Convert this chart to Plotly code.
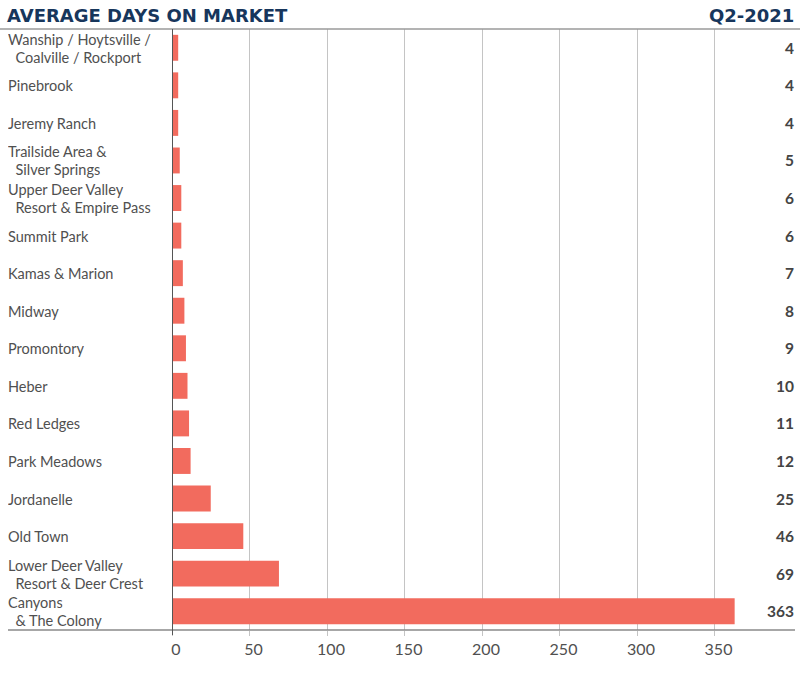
import plotly.graph_objects as go

categories = [
    "Wanship / Hoytsville /\n\u00a0\u00a0Coalville / Rockport",
    "Pinebrook",
    "Jeremy Ranch",
    "Trailside Area &\n\u00a0\u00a0Silver Springs",
    "Upper Deer Valley\n\u00a0\u00a0Resort & Empire Pass",
    "Summit Park",
    "Kamas & Marion",
    "Midway",
    "Promontory",
    "Heber",
    "Red Ledges",
    "Park Meadows",
    "Jordanelle",
    "Old Town",
    "Lower Deer Valley\n\u00a0\u00a0Resort & Deer Crest",
    "Canyons\n\u00a0\u00a0& The Colony",
]
values = [4, 4, 4, 5, 6, 6, 7, 8, 9, 10, 11, 12, 25, 46, 69, 363]
tick_values = [0, 50, 100, 150, 200, 250, 300, 350]

W, H = 800, 673
ML, MR, MT, MB = 172, 8, 29, 43
LINE_GAP = 18

BAR = "#F26B5E"
NAVY = "#17365C"
TXT = "#505050"
FONT = "Lato"

fig = go.Figure(go.Bar(
    x=values, y=list(range(len(categories))), orientation="h",
    marker=dict(color=BAR, line=dict(width=0)), width=0.69,
    hoverinfo="skip",
))

annotations = []
for i, (c, v) in enumerate(zip(categories, values)):
    lines = c.split("\n")
    n = len(lines)
    for k, line in enumerate(lines):
        annotations.append(dict(
            xref="paper", yref="y", x=0, y=i, xanchor="left", yanchor="middle",
            xshift=-(ML - 7), yshift=(n - 1) * LINE_GAP / 2 - k * LINE_GAP, text=line,
            showarrow=False, align="left", height=LINE_GAP, borderpad=0,
            font=dict(family=FONT, size=14.5, color=TXT),
        ))
    annotations.append(dict(
        xref="paper", yref="y", x=1, y=i, xanchor="right", yanchor="middle",
        xshift=4, text=f"<b>{v}</b>", showarrow=False, align="right",
        font=dict(family=FONT, size=15.5, color="#444444"),
    ))

annotations.append(dict(
    xref="paper", yref="paper", x=0, y=1, xanchor="left", yanchor="middle",
    xshift=-(ML - 5), yshift=14, text="<b>AVERAGE DAYS ON MARKET</b>", showarrow=False,
    font=dict(family="DejaVu Sans", size=18, color=NAVY),
))
annotations.append(dict(
    xref="paper", yref="paper", x=1, y=1, xanchor="right", yanchor="middle",
    xshift=4, yshift=14, text="<b>Q2-2021</b>", showarrow=False,
    font=dict(family="DejaVu Sans", size=18, color=NAVY),
))

shapes = [
    # top rule
    dict(type="line", xref="paper", yref="paper", x0=-ML / (W - ML - MR), x1=1 + MR / (W - ML - MR),
         y0=1, y1=1, line=dict(color="#9a9a9a", width=1.5)),
    # bottom rule
    dict(type="line", xref="paper", yref="paper", x0=-(ML - 8) / (W - ML - MR), x1=1 + 3 / (W - ML - MR),
         y0=0, y1=0, line=dict(color="#8a8a8a", width=1.5)),
    # zero axis line
    dict(type="line", xref="x", yref="paper", x0=0, x1=0, y0=1, y1=-5 / (H - MT - MB),
         line=dict(color="#555555", width=2)),
]

fig.update_layout(
    width=W, height=H,
    margin=dict(l=ML, r=MR, t=MT, b=MB),
    plot_bgcolor="white", paper_bgcolor="white",
    showlegend=False,
    annotations=annotations,
    shapes=shapes,
    xaxis=dict(
        range=[0, 400], tickvals=tick_values, ticktext=[str(t) for t in tick_values],
        showgrid=True, gridcolor="#c4c4c4", gridwidth=1,
        zeroline=False, showline=False,
        ticks="outside", ticklen=5, tickcolor="#c4c4c4", tickwidth=1,
        tickfont=dict(family=FONT, size=16, color=TXT),
        ticklabelshift=4,
        fixedrange=True,
    ),
    yaxis=dict(
        range=[len(categories) - 0.5, -0.5], showticklabels=False, showgrid=False,
        zeroline=False, showline=False, fixedrange=True,
    ),
    bargap=0.31,
)

fig.write_html(
    "out.html",
    config={"displayModeBar": False},
    post_script="document.body.style.margin='0';document.body.style.overflow='hidden';",
)
